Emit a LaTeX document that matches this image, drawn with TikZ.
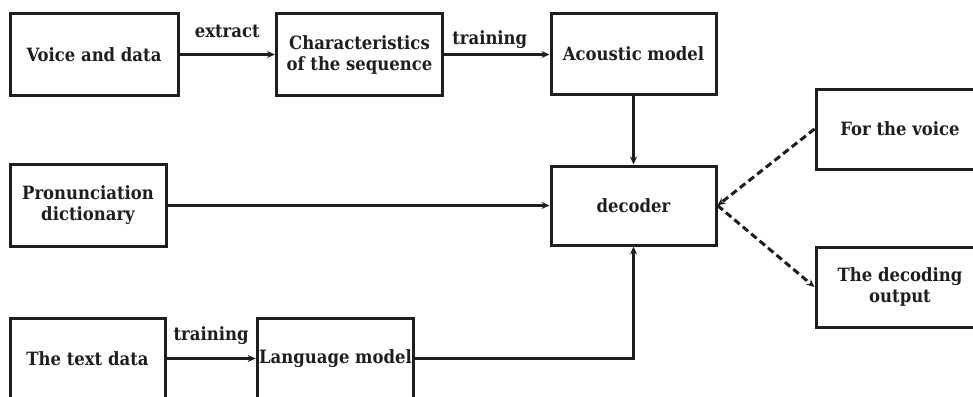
\documentclass[tikz,border=0pt]{standalone}
\usepackage{fontspec}
\setmainfont{DejaVu Serif Condensed}
\usetikzlibrary{arrows.meta}
\definecolor{ink}{HTML}{1e1e1e}
\tikzset{
  box/.style={draw=ink, line width=3pt, align=center, text=ink,
    font=\fontsize{18.3}{21}\selectfont\bfseries, inner sep=2pt},
  lbl/.style={text=ink, font=\fontsize{18.3}{21}\selectfont\bfseries, inner sep=0pt},
  conn/.style={draw=ink, line width=2.6pt, -{Stealth[length=8pt,width=7pt]}},
  dconn/.style={draw=ink, line width=3pt, dash pattern=on 7pt off 4pt, -{Stealth[length=8pt,width=7pt]}}
}
\begin{document}
\begin{tikzpicture}[x=1pt,y=-1pt]
\clip (0,0) rectangle (973,396);
\fill[white] (0,0) rectangle (973,396);
\node[box, minimum width=168pt, minimum height=81pt] (v) at (94,54.5) {Voice and data};
\node[box, minimum width=166pt, minimum height=81pt] (c) at (359.5,54.5) {Characteristics\\of the sequence};
\node[box, minimum width=165pt, minimum height=80pt] (a) at (633.5,54) {Acoustic model};
\node[box, minimum width=156pt, minimum height=82pt] (p) at (88,205.5) {Pronunciation\\dictionary};
\node[box, minimum width=165pt, minimum height=79pt] (d) at (633.5,205.5) {decoder};
\node[box, minimum width=155pt, minimum height=81pt] (t) at (87.5,358.5) {The text data};
\node[box, minimum width=155pt, minimum height=81pt] (l) at (335.5,358.5) {Language model};
\node[box, minimum width=168pt, minimum height=80pt] (f) at (900,129) {For the voice};
\node[box, minimum width=168pt, minimum height=80pt] (o) at (900,287) {The decoding\\output};
\draw[conn] (v.east) -- node[lbl, midway, yshift=23pt] {extract} (c.west);
\draw[conn] (c.east) -- node[lbl, midway, xshift=-7pt, yshift=15pt] {training} (c.east -| a.west);
\draw[conn] (a.south) -- (d.north);
\draw[conn] (p.east) -- (p.east -| d.west);
\draw[conn] (t.east) -- node[lbl, midway, yshift=23pt] {training} (l.west);
\draw[conn] (l.east) -| (d.south);
\draw[dconn] (f.west) -- (d.east);
\draw[dconn] (d.east) -- (o.west);
\end{tikzpicture}
\end{document}
